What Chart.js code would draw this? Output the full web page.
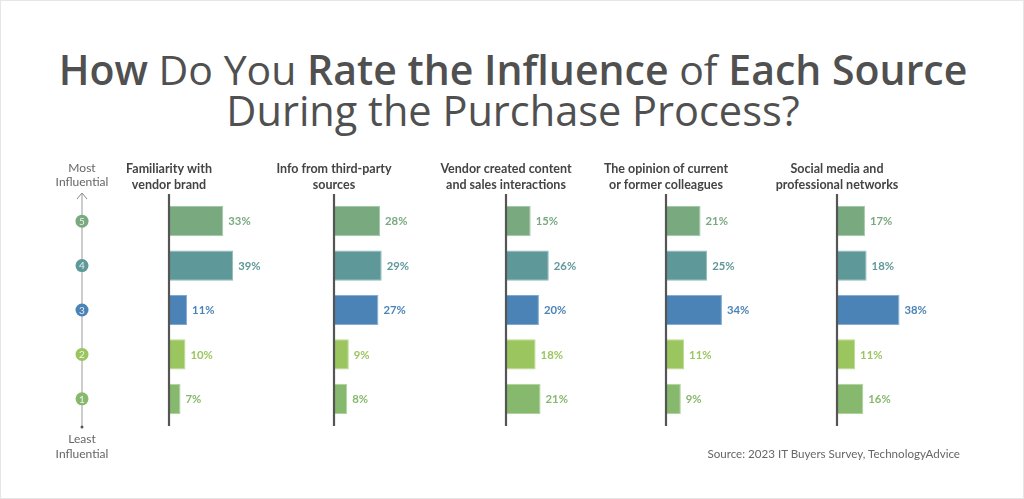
<!DOCTYPE html>
<html>
<head>
<meta charset="utf-8">
<script src="https://cdn.jsdelivr.net/npm/chart.js@4.4.0/dist/chart.umd.min.js"></script>
<style>
  html,body{margin:0;padding:0;background:#fff;}
  #wrap{position:relative;width:1024px;height:499px;overflow:hidden;box-sizing:border-box;border:1px solid #e6e6e6;background:#fff;}
  .title{position:absolute;left:0;width:1024px;text-align:center;color:#505050;font-family:"Open Sans",sans-serif;white-space:nowrap;}
  .title b{font-weight:600;}
  .title span{font-weight:400;}
  #t1{top:43px;font-size:41px;line-height:50px;}
  #t2{top:84px;font-size:41.5px;line-height:50px;font-weight:400;}
  #src{position:absolute;right:63px;top:446px;font-family:"Lato","Open Sans",sans-serif;font-size:11.6px;color:#666;}
  canvas{position:absolute;top:150px;}
</style>
</head>
<body>
<div id="wrap">
  <div class="title" id="t1"><b>How</b> <span>Do You</span> <b>Rate the Influence</b> <span>of</span> <b>Each Source</b></div>
  <div class="title" id="t2">During the Purchase Process?</div>
  <canvas id="c0" width="298" height="310" style="left:30px"></canvas>
  <canvas id="c1" width="240" height="310" style="left:253px"></canvas>
  <canvas id="c2" width="240" height="310" style="left:425px"></canvas>
  <canvas id="c3" width="240" height="310" style="left:585px"></canvas>
  <canvas id="c4" width="240" height="310" style="left:756px"></canvas>
  <div id="src">Source: 2023 IT Buyers Survey, TechnologyAdvice</div>
</div>
<script>
const ratings = ['5','4','3','2','1'];
const panelTitles = [
  ['Familiarity with','vendor brand'],
  ['Info from third-party','sources'],
  ['Vendor created content','and sales interactions'],
  ['The opinion of current','or former colleagues'],
  ['Social media and','professional networks']
];
const familiarity = [33,39,11,10,7];
const thirdParty = [28,29,27,9,8];
const vendorContent = [15,26,20,18,21];
const colleagues = [21,25,34,11,9];
const socialMedia = [17,18,38,11,16];
const seriesList = [familiarity, thirdParty, vendorContent, colleagues, socialMedia];

const fillColors = ['#78a97f','#5e9899','#4c83b6','#9bc55f','#86b96d'];
const edgeColors = ['#a3c8a8','#8fbcbc','#85aed4','#bcdc90','#aed49a'];

const decor = {
  id:'decor',
  afterDatasetsDraw(chart, args, opts){
    const ctx = chart.ctx;
    const ca = chart.chartArea;
    const meta = chart.getDatasetMeta(0);
    const ys = chart.scales.y;
    ctx.save();
    ctx.strokeStyle = '#555';
    ctx.lineWidth = 2.2;
    ctx.beginPath();
    ctx.moveTo(ca.left, ca.top - 5);
    ctx.lineTo(ca.left, ca.bottom + 5);
    ctx.stroke();
    ctx.font = 'bold 11.3px "Lato", "Open Sans", sans-serif';
    ctx.textBaseline = 'middle';
    ctx.textAlign = 'left';
    meta.data.forEach((bar, i) => {
      ctx.fillStyle = fillColors[i];
      ctx.fillText(chart.data.datasets[0].data[i] + '%', bar.x + 5, bar.y + 0.5);
    });
    ctx.fillStyle = '#444';
    ctx.font = 'bold 12.5px "Lato", "Open Sans", sans-serif';
    ctx.textAlign = 'center';
    const tl = opts.title;
    ctx.fillText(tl[0], ca.left, 18);
    ctx.fillText(tl[1], ca.left, 34);
    if (opts.indicator) {
      const cx = 51;
      ctx.strokeStyle = '#bdbdbd';
      ctx.lineWidth = 1.5;
      ctx.beginPath();
      ctx.moveTo(cx, ca.top - 5);
      ctx.lineTo(cx, ca.bottom + 6);
      ctx.stroke();
      ctx.strokeStyle = '#888';
      ctx.lineWidth = 1;
      ctx.beginPath();
      ctx.moveTo(cx - 5, ca.top);
      ctx.lineTo(cx, ca.top - 6);
      ctx.lineTo(cx + 5, ca.top);
      ctx.stroke();
      ctx.fillStyle = '#555';
      ctx.beginPath();
      ctx.arc(cx, ca.bottom + 6, 1.5, 0, Math.PI*2);
      ctx.fill();
      ratings.forEach((r, i) => {
        const y = ys.getPixelForValue(i);
        ctx.fillStyle = fillColors[i];
        ctx.beginPath();
        ctx.arc(cx, y, 6.5, 0, Math.PI*2);
        ctx.fill();
        ctx.fillStyle = 'rgba(255,255,255,0.85)';
        ctx.font = '10px "Lato", sans-serif';
        ctx.textAlign = 'center';
        ctx.fillText(r, cx, y + 0.5);
      });
      ctx.fillStyle = '#666';
      ctx.font = '12px "Lato", "Open Sans", sans-serif';
      ctx.fillText('Most', cx, 17);
      ctx.fillText('Influential', cx, 31);
      ctx.fillText('Least', cx, 288);
      ctx.fillText('Influential', cx, 303);
    }
    ctx.restore();
  }
};

seriesList.forEach((vals, k) => {
  const padLeft = k === 0 ? 138 : 80;
  new Chart(document.getElementById('c' + k), {
    type: 'bar',
    data: {
      labels: ratings,
      datasets: [{
        data: vals,
        backgroundColor: fillColors,
        borderColor: edgeColors,
        borderWidth: 1,
        borderSkipped: 'left',
        barPercentage: 0.68,
        categoryPercentage: 1
      }]
    },
    options: {
      indexAxis: 'y',
      responsive: false,
      animation: false,
      devicePixelRatio: 1,
      layout: { padding: { left: padLeft, right: 58, top: 48, bottom: 40 } },
      scales: {
        x: { display: false, min: 0, max: 62 },
        y: { display: false }
      },
      plugins: {
        legend: { display: false },
        tooltip: { enabled: false },
        decor: { title: panelTitles[k], indicator: k === 0 }
      }
    },
    plugins: [decor]
  });
});
</script>
</body>
</html>
